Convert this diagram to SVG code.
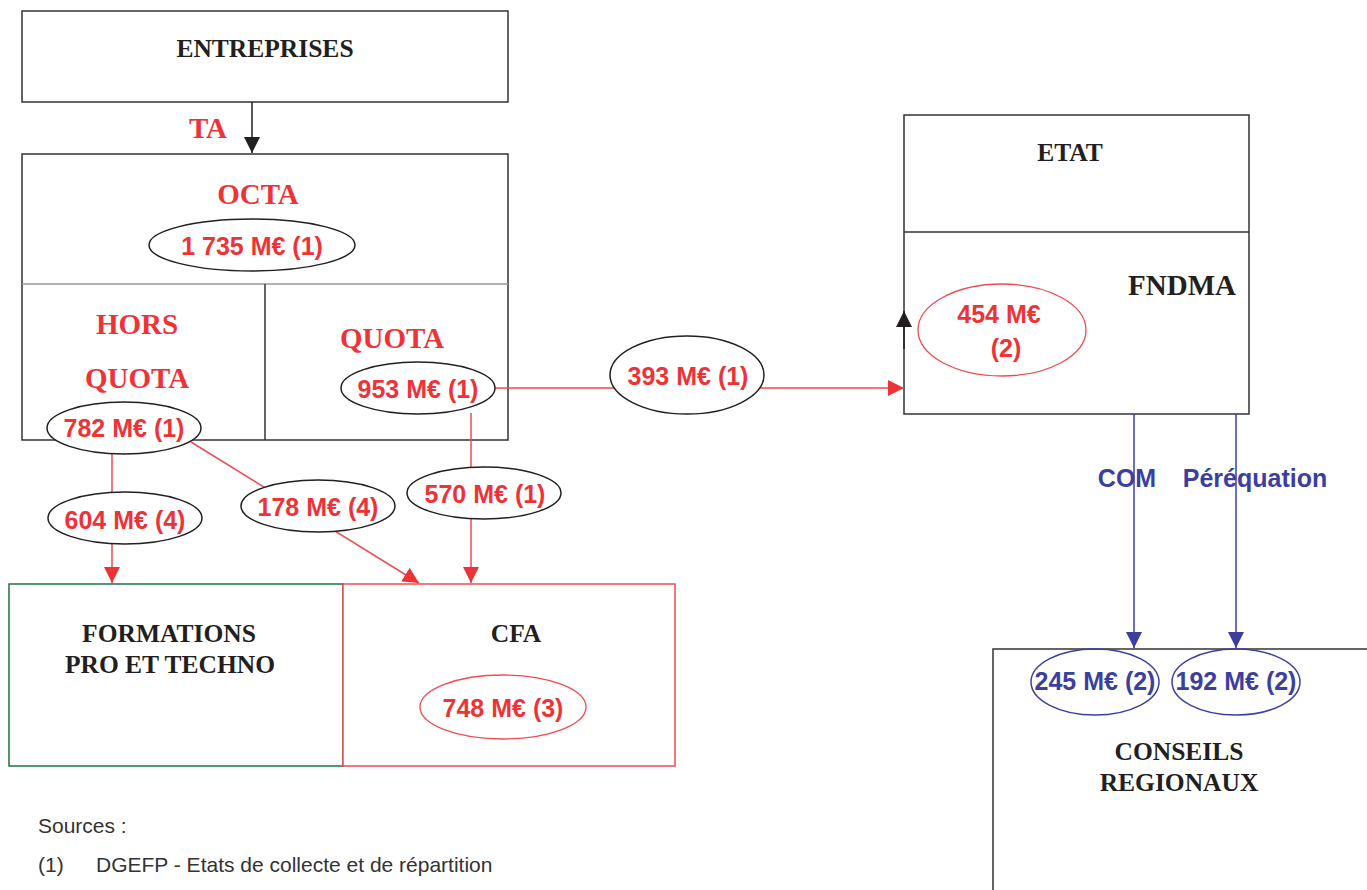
<svg xmlns="http://www.w3.org/2000/svg" width="1367" height="890" viewBox="0 0 1367 890">
<style>
.box{fill:#fff;stroke:#333;stroke-width:1.5}
.title{font-family:"Liberation Serif","Times New Roman",serif;font-weight:bold;font-size:25.5px;fill:#231f20;text-anchor:middle}
.rtitle{font-family:"Liberation Serif","Times New Roman",serif;font-weight:bold;font-size:29px;fill:#ee3338;text-anchor:middle}
.val{font-family:"Liberation Sans",Arial,sans-serif;font-weight:bold;font-size:25px;fill:#ee3338;text-anchor:middle}
.bval{font-family:"Liberation Sans",Arial,sans-serif;font-weight:bold;font-size:25px;fill:#3c3f9f;text-anchor:middle}
.lbl{fill:#fff;stroke:#231f20;stroke-width:1.5}
.rline{stroke:#ef4b50;stroke-width:1.5;fill:none}
.bline{stroke:#3c3f9f;stroke-width:1.5;fill:none}
.kline{stroke:#231f20;stroke-width:1.5;fill:none}
.src{font-family:"Liberation Sans",Arial,sans-serif;font-size:21px;fill:#333}
</style>
<defs>
<marker id="ar" viewBox="0 0 16 16" refX="16" refY="8" markerWidth="16" markerHeight="16" markerUnits="userSpaceOnUse" orient="auto"><path d="M0,0 L16,8 L0,16 z" fill="#ee3338"/></marker>
<marker id="ab" viewBox="0 0 16 16" refX="16" refY="8" markerWidth="16" markerHeight="16" markerUnits="userSpaceOnUse" orient="auto"><path d="M0,0 L16,8 L0,16 z" fill="#3c3f9f"/></marker>
<marker id="ak" viewBox="0 0 16 16" refX="16" refY="8" markerWidth="16" markerHeight="16" markerUnits="userSpaceOnUse" orient="auto"><path d="M0,0 L16,8 L0,16 z" fill="#231f20"/></marker>
</defs>
<rect width="1367" height="890" fill="#fff"/>

<g id="entreprises">
<rect class="box" x="22" y="11" width="486" height="91"/>
<text class="title" x="265" y="57">ENTREPRISES</text>
</g>

<g id="octa">
<rect class="box" x="22" y="154" width="486" height="286"/>
<line x1="22" y1="284" x2="508" y2="284" stroke="#999" stroke-width="1.5"/>
<line x1="265" y1="284" x2="265" y2="440" stroke="#333" stroke-width="1.5"/>
<text class="rtitle" x="258" y="204">OCTA</text>
<ellipse class="lbl" cx="252" cy="245" rx="103" ry="26"/>
<text class="val" x="252" y="255">1 735 M€ (1)</text>
</g>

<g id="hors-quota">
<text class="rtitle" x="137" y="334">HORS</text>
<text class="rtitle" x="137" y="388">QUOTA</text>
</g>

<g id="quota">
<text class="rtitle" x="392" y="348">QUOTA</text>
</g>

<g id="etat">
<rect class="box" x="904" y="115" width="345" height="299"/>
<line x1="904" y1="232" x2="1249" y2="232" stroke="#333" stroke-width="1.5"/>
<text class="title" x="1070" y="161">ETAT</text>
</g>

<g id="fndma">
<text class="title" x="1182" y="295" style="font-size:29px">FNDMA</text>
<ellipse cx="1002" cy="330" rx="84" ry="46" fill="#fff" stroke="#ef4b50" stroke-width="1.3"/>
<text class="val" x="999" y="323">454 M€</text>
<text class="val" x="1006" y="357">(2)</text>
</g>

<g id="formations">
<rect x="9" y="584" width="334" height="182" fill="#fff" stroke="#1b7340" stroke-width="1.5"/>
<text class="title" x="169" y="642">FORMATIONS</text>
<text class="title" x="170" y="673">PRO ET TECHNO</text>
</g>

<g id="cfa">
<rect x="343" y="584" width="332" height="182" fill="#fff" stroke="#ef4b50" stroke-width="1.5"/>
<text class="title" x="516" y="642">CFA</text>
<ellipse cx="503" cy="707" rx="83" ry="32" fill="#fff" stroke="#ef4b50" stroke-width="1.3"/>
<text class="val" x="503" y="717">748 M€ (3)</text>
</g>

<g id="conseils-regionaux">
<path d="M993,890 L993,649 L1367,649" fill="none" stroke="#333" stroke-width="1.5"/>
<text class="title" x="1179" y="760">CONSEILS</text>
<text class="title" x="1179" y="791">REGIONAUX</text>
</g>

<g id="connectors">
<line class="kline" x1="252" y1="102" x2="252" y2="153" marker-end="url(#ak)"/>
<line class="kline" x1="904" y1="349" x2="904" y2="311" marker-end="url(#ak)"/>
<line class="rline" x1="495" y1="388" x2="904" y2="388" marker-end="url(#ar)"/>
<line class="rline" x1="112" y1="452" x2="112" y2="583" marker-end="url(#ar)"/>
<line class="rline" x1="191" y1="442" x2="419" y2="583" marker-end="url(#ar)"/>
<line class="rline" x1="471" y1="413" x2="471" y2="583" marker-end="url(#ar)"/>
<line class="bline" x1="1134" y1="414" x2="1134" y2="648" marker-end="url(#ab)"/>
<line class="bline" x1="1236" y1="414" x2="1236" y2="648" marker-end="url(#ab)"/>
<text class="rtitle" x="208" y="138">TA</text>
<text class="bval" x="1127" y="487">COM</text>
<text class="bval" x="1255" y="487">Péréquation</text>
</g>

<g id="label-953">
<ellipse class="lbl" cx="418" cy="388" rx="77" ry="26"/>
<text class="val" x="418" y="398">953 M€ (1)</text>
</g>
<g id="label-782">
<ellipse class="lbl" cx="124" cy="428" rx="77" ry="26"/>
<text class="val" x="124" y="437">782 M€ (1)</text>
</g>
<g id="label-393">
<ellipse class="lbl" cx="687" cy="375" rx="77" ry="39"/>
<text class="val" x="688" y="385">393 M€ (1)</text>
</g>
<g id="label-604">
<ellipse class="lbl" cx="125" cy="518" rx="77" ry="26"/>
<text class="val" x="125" y="529">604 M€ (4)</text>
</g>
<g id="label-178">
<ellipse class="lbl" cx="318" cy="506" rx="77" ry="26"/>
<text class="val" x="318" y="516">178 M€ (4)</text>
</g>
<g id="label-570">
<ellipse class="lbl" cx="484" cy="493" rx="77" ry="26"/>
<text class="val" x="485" y="503">570 M€ (1)</text>
</g>
<g id="label-245">
<ellipse cx="1095" cy="682" rx="64" ry="33" fill="none" stroke="#3c3f9f" stroke-width="1.5"/>
<text class="bval" x="1095" y="690">245 M€ (2)</text>
</g>
<g id="label-192">
<ellipse cx="1236" cy="682" rx="64" ry="33" fill="none" stroke="#3c3f9f" stroke-width="1.5"/>
<text class="bval" x="1236" y="690">192 M€ (2)</text>
</g>

<g id="sources">
<text class="src" x="38" y="833">Sources :</text>
<text class="src" x="38" y="872">(1)</text>
<text class="src" x="96" y="872">DGEFP - Etats de collecte et de répartition</text>
</g>
</svg>
